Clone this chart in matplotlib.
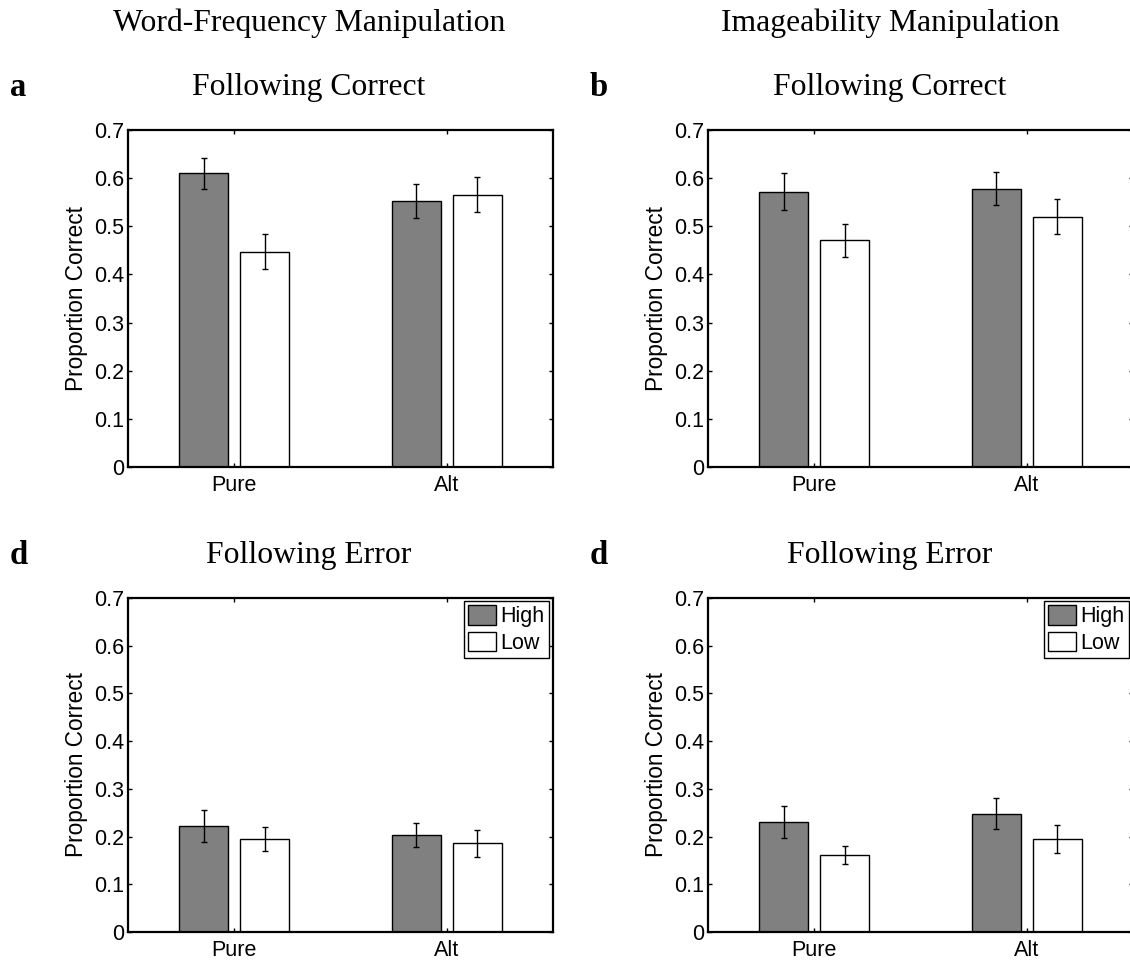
import numpy as np
import matplotlib
matplotlib.use("Agg")
import matplotlib.pyplot as plt

# conditions and bar series
groups = ["Pure", "Alt"]
series = ["High", "Low"]
yticks = [0, 0.1, 0.2, 0.3, 0.4, 0.5, 0.6, 0.7]
ytick_labels = ["0", "0.1", "0.2", "0.3", "0.4", "0.5", "0.6", "0.7"]

# Word-frequency, following correct (panel a)
wf_corr_high = [0.610, 0.553]
wf_corr_high_err = [0.032, 0.035]
wf_corr_low = [0.447, 0.566]
wf_corr_low_err = [0.036, 0.036]

# Imageability, following correct (panel b)
im_corr_high = [0.572, 0.578]
im_corr_high_err = [0.039, 0.034]
im_corr_low = [0.471, 0.520]
im_corr_low_err = [0.034, 0.036]

# Word-frequency, following error (bottom left)
wf_err_high = [0.222, 0.203]
wf_err_high_err = [0.034, 0.025]
wf_err_low = [0.195, 0.186]
wf_err_low_err = [0.026, 0.028]

# Imageability, following error (bottom right)
im_err_high = [0.231, 0.248]
im_err_high_err = [0.034, 0.032]
im_err_low = [0.161, 0.195]
im_err_low_err = [0.019, 0.029]

W, H = 1130, 961
SERIF = "Liberation Serif"
SANS = "Liberation Sans"
plt.rcParams["font.family"] = SANS


def add_px_axes(fig, left, top, right, bottom):
    return fig.add_axes([left / W, 1 - bottom / H, (right - left) / W, (bottom - top) / H])


def draw_panel(ax, high, high_err, low, low_err, legend=False):
    x = np.arange(1, len(groups) + 1)
    off, width = 0.143, 0.23
    b1 = ax.bar(x - off, high, width, color="#808080", edgecolor="black", linewidth=1.0,
                label=series[0], zorder=2)
    b2 = ax.bar(x + off, low, width, color="white", edgecolor="black", linewidth=1.0,
                label=series[1], zorder=2)
    ax.errorbar(x - off, high, yerr=high_err, fmt="none", ecolor="black",
                elinewidth=1.0, capsize=2.5, capthick=1.0, zorder=3)
    ax.errorbar(x + off, low, yerr=low_err, fmt="none", ecolor="black",
                elinewidth=1.0, capsize=2.5, capthick=1.0, zorder=3)
    ax.set_xlim(0.5, 2.5)
    ax.set_ylim(0, 0.7)
    ax.set_xticks(x)
    ax.set_xticklabels(groups)
    ax.set_yticks(yticks)
    ax.set_yticklabels(ytick_labels)
    ax.tick_params(direction="in", top=True, right=True, length=3, width=1,
                   labelsize=15.5, pad=3)
    ax.tick_params(axis="x", pad=6)
    for s in ax.spines.values():
        s.set_linewidth(1.6)
    ax.set_ylabel("Proportion Correct", fontsize=16.3, labelpad=4)
    if legend:
        ax.legend(handles=[b1, b2], loc="upper right",
                  bbox_to_anchor=(1 - 4 / 425, 1 - 3 / 334), borderaxespad=0,
                  fontsize=15.5, frameon=True, fancybox=False, framealpha=1,
                  edgecolor="black", borderpad=0.2, handlelength=1.3,
                  handleheight=1.0, handletextpad=0.2, labelspacing=0.22)


fig = plt.figure(figsize=(W / 100, H / 100), dpi=100)

ax_a = add_px_axes(fig, 128, 130, 553, 467)
ax_b = add_px_axes(fig, 708, 130, 1133, 467)
ax_c = add_px_axes(fig, 128, 598, 553, 932)
ax_d = add_px_axes(fig, 708, 598, 1133, 932)

draw_panel(ax_a, wf_corr_high, wf_corr_high_err, wf_corr_low, wf_corr_low_err)
draw_panel(ax_b, im_corr_high, im_corr_high_err, im_corr_low, im_corr_low_err)
draw_panel(ax_c, wf_err_high, wf_err_high_err, wf_err_low, wf_err_low_err, legend=True)
draw_panel(ax_d, im_err_high, im_err_high_err, im_err_low, im_err_low_err, legend=True)

# column headers
fig.text(309 / W, 1 - 23 / H, "Word-Frequency Manipulation", fontsize=22.8,
         family=SERIF, ha="center", va="center")
fig.text(890 / W, 1 - 23 / H, "Imageability Manipulation", fontsize=22.8,
         family=SERIF, ha="center", va="center")

# panel titles and letters
for (xc, yc, title, letter, lx) in [(309, 88, "Following Correct", "a", 18),
                                    (890, 88, "Following Correct", "b", 599),
                                    (309, 555, "Following Error", "d", 19),
                                    (890, 555, "Following Error", "d", 599)]:
    fig.text(xc / W, 1 - yc / H, title, fontsize=22.8, family=SERIF,
             ha="center", va="center")
    fig.text(lx / W, 1 - yc / H, letter, fontsize=23.5, family=SERIF,
             fontweight="bold", ha="center", va="center")

fig.savefig("out.png", dpi=100)
